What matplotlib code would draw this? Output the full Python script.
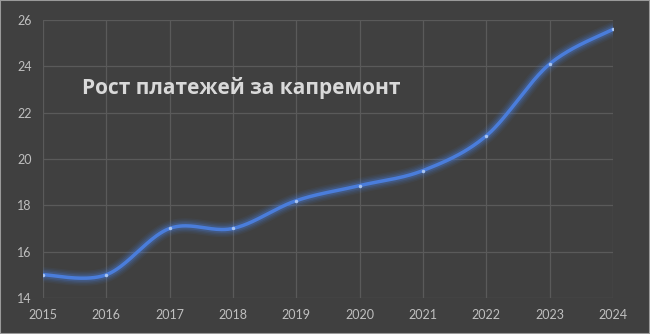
import numpy as np
import matplotlib
matplotlib.use('Agg')
from matplotlib import pyplot as plt
from matplotlib.patches import Rectangle

years = [2015, 2016, 2017, 2018, 2019, 2020, 2021, 2022, 2023, 2024]
payments = [15.0, 15.0, 17.0, 17.0, 18.2, 18.85, 19.5, 21.0, 24.1, 25.6]
y_ticks = [14, 16, 18, 20, 22, 24, 26]
title = 'Рост платежей за капремонт'

bg = '#404040'
grid_col = '#5a5a5a'
text_col = '#bfbfbf'
line_col = '#4a7ddb'


def smooth(xs, ys, n=40):
    # Excel-like smoothing: Catmull-Rom through the points
    xs = np.asarray(xs, float)
    ys = np.asarray(ys, float)
    px = np.concatenate([[xs[0]], xs, [xs[-1]]])
    py = np.concatenate([[ys[0]], ys, [ys[-1]]])
    out_x, out_y = [], []
    t = np.linspace(0, 1, n)
    for i in range(1, len(px) - 2):
        p0, p1, p2, p3 = [np.array([px[j], py[j]]) for j in range(i - 1, i + 3)]
        c1 = p1 + (p2 - p0) / 6
        c2 = p2 - (p3 - p1) / 6
        b = ((1 - t) ** 3)[:, None] * p1 + (3 * (1 - t) ** 2 * t)[:, None] * c1 \
            + (3 * (1 - t) * t ** 2)[:, None] * c2 + (t ** 3)[:, None] * p2
        out_x.extend(b[:, 0])
        out_y.extend(b[:, 1])
    return np.array(out_x), np.array(out_y)


fig = plt.figure(figsize=(6.5, 3.34), dpi=100, facecolor=bg)
ax = fig.add_axes([0.066, 0.108, 0.877, 0.832], facecolor=bg)

sx, sy = smooth(years, payments)
for lw, a in [(11, 0.07), (9, 0.09), (7, 0.13), (5, 0.22)]:
    ax.plot(sx, sy, color=line_col, lw=lw, alpha=a, solid_capstyle='round', zorder=2)
ax.plot(sx, sy, color=line_col, lw=2.5, solid_capstyle='round', zorder=3)
ax.plot(years, payments, 'o', ms=2.5, color='#a8c4f0', mec='none', zorder=4)

ax.set_xlim(2015, 2024)
ax.set_ylim(14, 26)
ax.set_xticks(years)
ax.set_yticks(y_ticks)
ax.grid(True, color=grid_col, lw=0.9)
ax.set_axisbelow(True)
for s in ax.spines.values():
    s.set_visible(False)
ax.tick_params(length=0, colors=text_col, labelsize=9, pad=8)
for lab in ax.get_xticklabels() + ax.get_yticklabels():
    lab.set_fontfamily('Lato')

ax.text(0.068, 0.755, title, transform=ax.transAxes, fontsize=15, fontweight='bold',
        color='#d9d9d9', family='Open Sans', va='center')

fig.patches.append(Rectangle((0, 0), 1, 1, transform=fig.transFigure, fill=False,
                             edgecolor='#9a9a9a', lw=1.5))

fig.savefig('out.png', dpi=100, facecolor=bg)
